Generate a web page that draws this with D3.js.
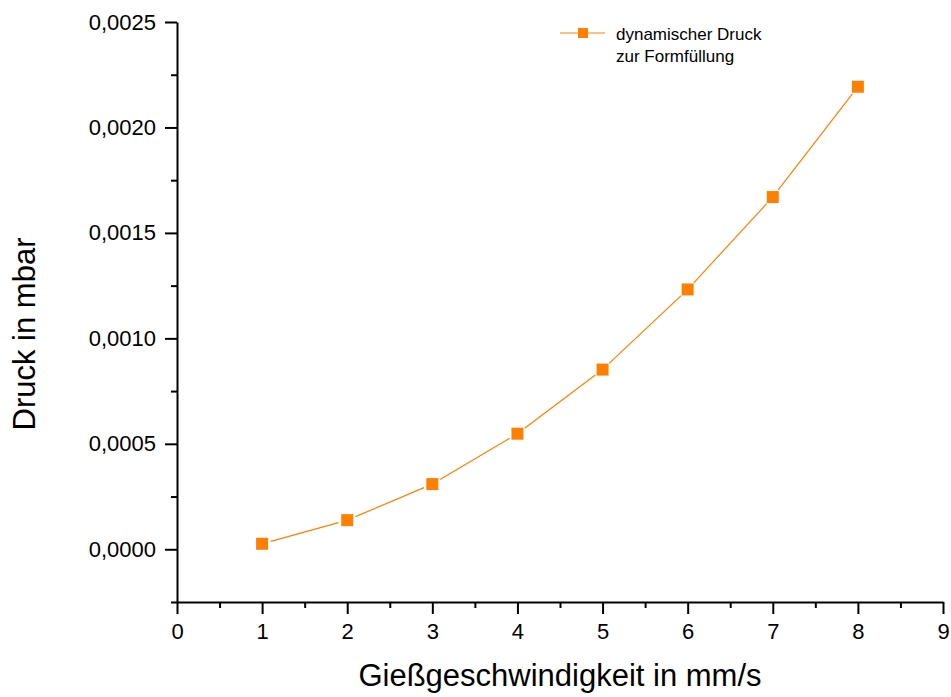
<!DOCTYPE html>
<html>
<head>
<meta charset="utf-8">
<script src="https://cdn.jsdelivr.net/npm/d3@7"></script>
<style>
  html, body { margin: 0; padding: 0; background: #fff; }
  svg { display: block; font-family: "Liberation Sans", Arial, sans-serif; }
</style>
</head>
<body>
<svg id="chart" width="951" height="697"></svg>
<script>
// Casting speed (mm/s) vs. dynamic pressure for mould filling (mbar)
const speeds = [1, 2, 3, 4, 5, 6, 7, 8];
const pressure = [0.000026, 0.000138, 0.000309, 0.000548, 0.000852, 0.001232, 0.00167, 0.002193];
const xTicks = [0, 1, 2, 3, 4, 5, 6, 7, 8, 9];
const yTicks = [0, 0.0005, 0.0010, 0.0015, 0.0020, 0.0025];
const seriesName = ["dynamischer Druck", "zur Formfüllung"];
const xTitle = "Gießgeschwindigkeit in mm/s";
const yTitle = "Druck in mbar";

const color = "#ff8000";
const font = "'Liberation Sans', Arial, sans-serif";
const svg = d3.select("#chart");
const margin = { left: 177, right: 8, top: 22, bottom: 95 };
const W = 951, H = 697;

const x = d3.scaleLinear().domain([0, 9]).range([margin.left, W - margin.right]);
const y = d3.scaleLinear().domain([-0.00025, 0.0025]).range([H - margin.bottom, margin.top]);

const fmtY = v => d3.format(".4f")(v).replace(".", ",");

// minor ticks halfway between majors
const xMinor = d3.range(0.5, 9, 1);
const yMinor = d3.range(-0.00025, 0.0025, 0.0005);

const axes = svg.append("g");

// x axis
const xAxis = axes.append("g")
  .attr("transform", `translate(0,${y(-0.00025)})`)
  .call(d3.axisBottom(x).tickValues(xTicks).tickFormat(d3.format("d")).tickSize(12).tickPadding(9).tickSizeOuter(0));
xAxis.append("g").call(d3.axisBottom(x).tickValues(xMinor).tickFormat("").tickSize(6).tickSizeOuter(0))
  .select(".domain").remove();

// y axis
const yAxis = axes.append("g")
  .attr("transform", `translate(${x(0)},0)`)
  .call(d3.axisLeft(y).tickValues(yTicks).tickFormat(fmtY).tickSize(12).tickPadding(9).tickSizeOuter(0));
yAxis.append("g").call(d3.axisLeft(y).tickValues(yMinor).tickFormat("").tickSize(6).tickSizeOuter(0))
  .select(".domain").remove();

axes.selectAll("g").attr("font-size", 22).attr("font-family", font);
axes.selectAll(".domain").attr("stroke", "#000").attr("stroke-width", 2);
axes.selectAll(".tick line").attr("stroke", "#000").attr("stroke-width", 2);
axes.selectAll(".tick text").attr("fill", "#000");

// axis titles
svg.append("text")
  .attr("x", (x(0) + x(9)) / 2)
  .attr("y", 686)
  .attr("text-anchor", "middle")
  .attr("font-size", 31)
  .text(xTitle);

svg.append("text")
  .attr("transform", `translate(35,${(y(-0.00025) + y(0.0025)) / 2 + 22}) rotate(-90)`)
  .attr("text-anchor", "middle")
  .attr("font-size", 31)
  .text(yTitle);

// connecting line, broken short of each marker
const pts = speeds.map((s, i) => [x(s), y(pressure[i])]);
const gap = 9;
const segs = [];
for (let i = 0; i < pts.length - 1; i++) {
  const [x0, y0] = pts[i], [x1, y1] = pts[i + 1];
  const len = Math.hypot(x1 - x0, y1 - y0);
  const ux = (x1 - x0) / len, uy = (y1 - y0) / len;
  segs.push([[x0 + ux * gap, y0 + uy * gap], [x1 - ux * gap, y1 - uy * gap]]);
}
svg.append("g").selectAll("line").data(segs).join("line")
  .attr("x1", d => d[0][0]).attr("y1", d => d[0][1])
  .attr("x2", d => d[1][0]).attr("y2", d => d[1][1])
  .attr("stroke", color).attr("stroke-width", 1.2);

// square markers
const ms = 12;
svg.append("g").selectAll("rect").data(speeds).join("rect")
  .attr("x", (d) => x(d) - ms / 2)
  .attr("y", (d, i) => y(pressure[i]) - ms / 2)
  .attr("width", ms).attr("height", ms)
  .attr("fill", color);

// legend
const lg = svg.append("g").attr("transform", "translate(560,33)");
lg.append("line").attr("x1", 0).attr("x2", 45).attr("y1", 0).attr("y2", 0)
  .attr("stroke", color).attr("stroke-width", 1.2);
lg.append("rect").attr("x", 23 - 5).attr("y", -5).attr("width", 10).attr("height", 10).attr("fill", color);
lg.selectAll("text").data(seriesName).join("text")
  .attr("x", 56)
  .attr("y", (d, i) => 7 + i * 22)
  .attr("font-size", 17)
  .text(d => d);
</script>
</body>
</html>
